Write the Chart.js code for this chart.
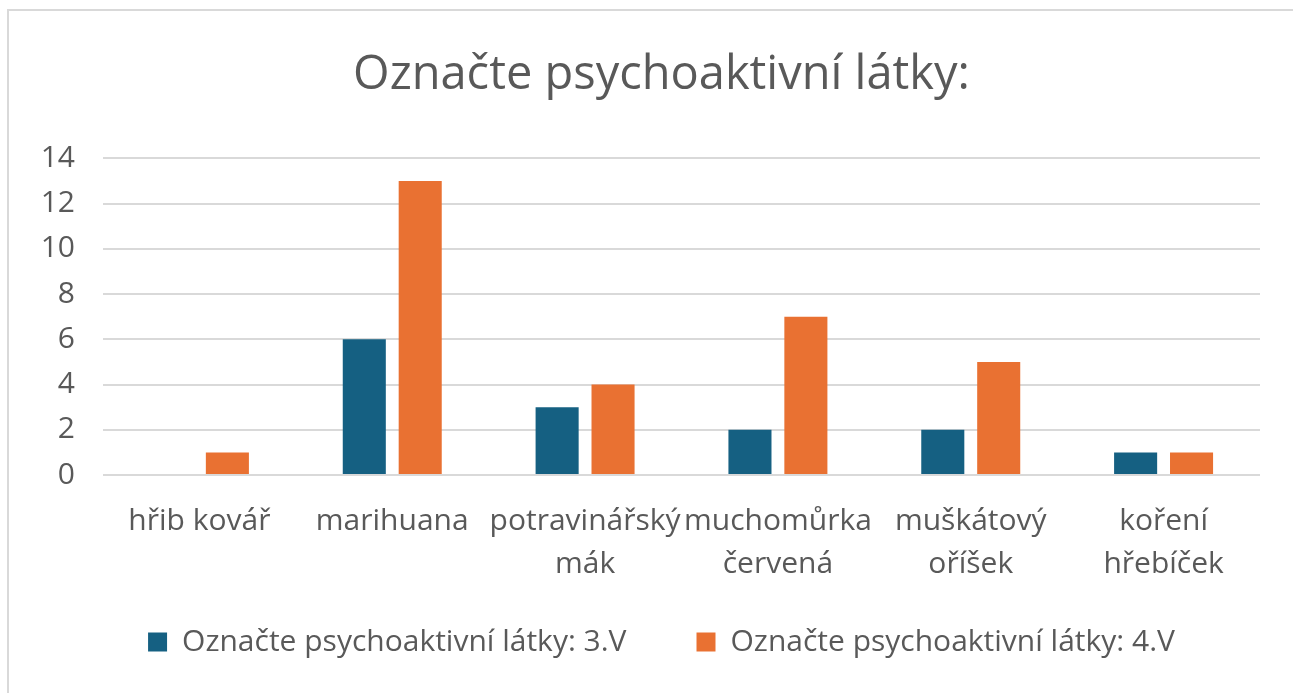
<!DOCTYPE html>
<html>
<head>
<meta charset="utf-8">
<script src="https://cdn.jsdelivr.net/npm/chart.js@4"></script>
<style>
  html, body { margin: 0; padding: 0; background: #fff; overflow: hidden; }
  #frame {
    position: absolute; left: 7px; top: 9px; width: 1400px; height: 800px;
    border-left: 2px solid #d9d9d9; border-top: 2px solid #d9d9d9;
  }
  #wrap { position: absolute; left: 0; top: 0; width: 1293px; height: 693px; }
</style>
</head>
<body>
<div id="frame"></div>
<div id="wrap"><canvas id="chart"></canvas></div>
<script>
// --- data ---
const chartTitle = "Označte psychoaktivní látky:";
const categories = [
  "hřib kovář",
  "marihuana",
  ["potravinářský", "mák"],
  ["muchomůrka", "červená"],
  ["muškátový", "oříšek"],
  ["koření", "hřebíček"]
];
const seriesNames = [
  "Označte psychoaktivní látky: 3.V",
  "Označte psychoaktivní látky: 4.V"
];
const values3V = [0, 6, 3, 2, 2, 1];
const values4V = [1, 13, 4, 7, 5, 1];
const yTicks = [0, 2, 4, 6, 8, 10, 12, 14];

const textColor = "#595959";
const fontFamily = "'Open Sans', 'Liberation Sans', sans-serif";

const ctx = document.getElementById("chart").getContext("2d");
new Chart(ctx, {
  type: "bar",
  data: {
    labels: categories,
    datasets: [
      {
        label: seriesNames[0],
        data: values3V,
        backgroundColor: "#156082",
        categoryPercentage: 0.58,
        barPercentage: 0.77
      },
      {
        label: seriesNames[1],
        data: values4V,
        backgroundColor: "#E97132",
        categoryPercentage: 0.58,
        barPercentage: 0.77
      }
    ]
  },
  options: {
    responsive: true,
    maintainAspectRatio: false,
    animation: false,
    layout: { padding: { left: 40, right: 10, top: 0, bottom: 26 } },
    plugins: {
      title: {
        display: true,
        text: chartTitle,
        color: textColor,
        font: { family: fontFamily, size: 47, weight: "normal" },
        padding: { top: 47, bottom: 55 }
      },
      legend: {
        position: "bottom",
        labels: {
          color: textColor,
          font: { family: fontFamily, size: 30 },
          boxWidth: 19,
          boxHeight: 19,
          padding: 40,
          // wider gap after the first entry, like the Excel legend
          generateLabels: chart => {
            const items = Chart.defaults.plugins.legend.labels.generateLabels(chart);
            items[0].text += "\u2003";
            return items;
          }
        }
      },
      tooltip: { enabled: false }
    },
    scales: {
      x: {
        afterFit: axis => { axis.height = 112; },
        grid: { display: false, drawTicks: false },
        border: { display: false },
        ticks: {
          color: textColor,
          font: { family: fontFamily, size: 30, lineHeight: 1.43 },
          maxRotation: 0,
          autoSkip: false,
          padding: 25
        }
      },
      y: {
        min: 0,
        max: 14,
        afterBuildTicks: axis => { axis.ticks = yTicks.map(v => ({ value: v })); },
        afterFit: axis => { axis.width = 63; },
        grid: { color: "#d9d9d9", lineWidth: 2, drawTicks: false },
        border: { display: false },
        ticks: {
          color: textColor,
          font: { family: fontFamily, size: 30 },
          padding: 28
        }
      },
      // empty spacer on the right so the plot ends where the reference does
      yRight: {
        position: "right",
        afterFit: axis => { axis.width = 23; },
        grid: { display: false, drawTicks: false },
        border: { display: false },
        ticks: { display: false }
      }
    }
  }
});
</script>
</body>
</html>
